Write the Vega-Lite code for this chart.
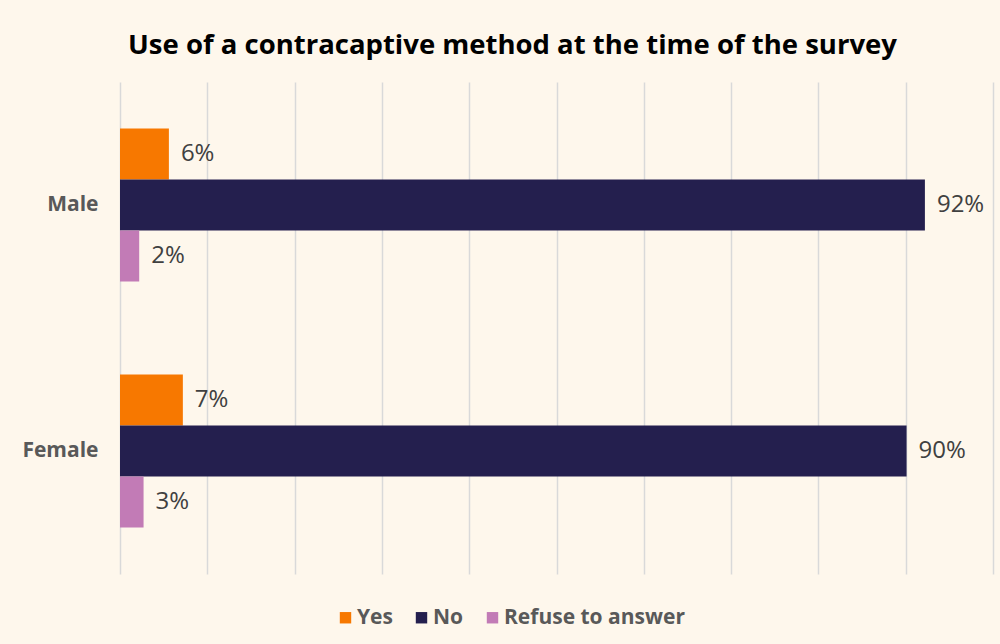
{
  "$schema": "https://vega.github.io/schema/vega-lite/v6.json",
  "autosize": {"type": "none"},
  "width": 873,
  "height": 492,
  "padding": {"left": 120, "top": 82, "right": 7, "bottom": 70},
  "background": "#FEF7EC",
  "title": {
    "text": "Use of a contracaptive method at the time of the survey",
    "font": "Open Sans",
    "fontSize": 27.5,
    "fontWeight": "bold",
    "color": "#000000",
    "anchor": "middle",
    "dx": -44,
    "offset": 23
  },
  "data": {
    "values": [
      {"gender": "Male", "answer": "Yes", "share": 0.056},
      {"gender": "Male", "answer": "No", "share": 0.922},
      {"gender": "Male", "answer": "Refuse to answer", "share": 0.022},
      {"gender": "Female", "answer": "Yes", "share": 0.072},
      {"gender": "Female", "answer": "No", "share": 0.901},
      {"gender": "Female", "answer": "Refuse to answer", "share": 0.027}
    ]
  },
  "encoding": {
    "y": {
      "field": "gender",
      "type": "nominal",
      "sort": ["Male", "Female"],
      "scale": {"paddingInner": 0, "paddingOuter": 0},
      "axis": {
        "title": null,
        "domain": false,
        "ticks": false,
        "labelPadding": 22,
        "labelFont": "Open Sans",
        "labelFontSize": 21,
        "labelFontWeight": "bold",
        "labelColor": "#595959"
      }
    },
    "yOffset": {
      "field": "answer",
      "type": "nominal",
      "sort": ["Yes", "No", "Refuse to answer"],
      "scale": {"paddingInner": 0, "paddingOuter": 0.91}
    },
    "x": {
      "field": "share",
      "type": "quantitative",
      "scale": {"domain": [0, 1], "nice": false},
      "axis": {
        "title": null,
        "labels": false,
        "ticks": false,
        "domain": false,
        "grid": true,
        "tickCount": 10,
        "gridColor": "#D9D9D9",
        "gridWidth": 1.5
      }
    }
  },
  "layer": [
    {
      "mark": {"type": "bar"},
      "encoding": {
        "color": {
          "field": "answer",
          "type": "nominal",
          "scale": {
            "domain": ["Yes", "No", "Refuse to answer"],
            "range": ["#F77800", "#241F4E", "#C27BB6"]
          },
          "legend": {
            "title": null,
            "orient": "none",
            "direction": "horizontal",
            "legendX": 215,
            "legendY": 525,
            "padding": 0,
            "symbolType": "square",
            "symbolSize": 130,
            "symbolStrokeWidth": 0,
            "symbolOpacity": 1,
            "labelFont": "Open Sans",
            "labelFontSize": 21,
            "labelFontWeight": "bold",
            "labelColor": "#595959",
            "labelLimit": 400,
            "columnPadding": 18,
            "labelOffset": 1
          }
        }
      }
    },
    {
      "mark": {
        "type": "text",
        "align": "left",
        "baseline": "middle",
        "dx": 12,
        "font": "Open Sans",
        "fontSize": 24,
        "color": "#404040"
      },
      "encoding": {
        "text": {"field": "share", "type": "quantitative", "format": ".0%"}
      }
    }
  ],
  "config": {
    "view": {"stroke": null}
  }
}
